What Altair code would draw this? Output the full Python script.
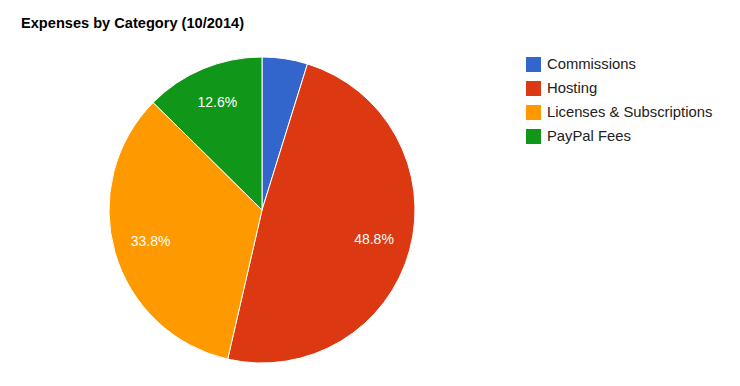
import altair as alt
import pandas as pd

categories = ["Commissions", "Hosting", "Licenses & Subscriptions", "PayPal Fees"]
values = [4.8, 48.8, 33.8, 12.6]
labels = ["", "48.8%", "33.8%", "12.6%"]
colors = ["#3366cc", "#dc3912", "#ff9900", "#109618"]

df = pd.DataFrame({"category": categories, "value": values, "label": labels, "order": list(range(len(categories)))})

FONT = "Liberation Sans"

base = alt.Chart(df).encode(
    theta=alt.Theta("value:Q", stack=True),
    order=alt.Order("order:Q"),
)

arcs = base.mark_arc(outerRadius=153, stroke="white", strokeWidth=1).encode(
    x=alt.value(254),
    y=alt.value(162),
    color=alt.Color(
        "category:N",
        scale=alt.Scale(domain=categories, range=colors),
        legend=alt.Legend(
            title=None,
            orient="none",
            legendX=518,
            legendY=9,
            symbolType="square",
            symbolSize=225,
            symbolStrokeWidth=0,
            labelFont=FONT,
            labelFontSize=14.8,
            labelColor="#222222",
            labelOffset=6,
            labelLimit=400,
            rowPadding=8,
            padding=0,
        ),
    ),
)

text = base.mark_text(radius=116, font=FONT, fontSize=14, color="white").encode(
    x=alt.value(254),
    y=alt.value(162),
    text="label:N",
)

chart = (
    alt.layer(arcs, text)
    .properties(
        width=724,
        height=330,
        padding={"top": 40, "left": 0, "right": 0, "bottom": 0},
        autosize=alt.AutoSizeParams(type="none"),
        title=alt.TitleParams(
            "Expenses by Category (10/2014)",
            anchor="start",
            frame="group",
            font=FONT,
            fontSize=14.6,
            fontWeight="bold",
            color="#000000",
            baseline="alphabetic",
            offset=5,
            dx=13,
        ),
    )
    .configure_view(stroke=None)
)

chart.save("out.html", embed_options={"renderer": "svg", "actions": False})
